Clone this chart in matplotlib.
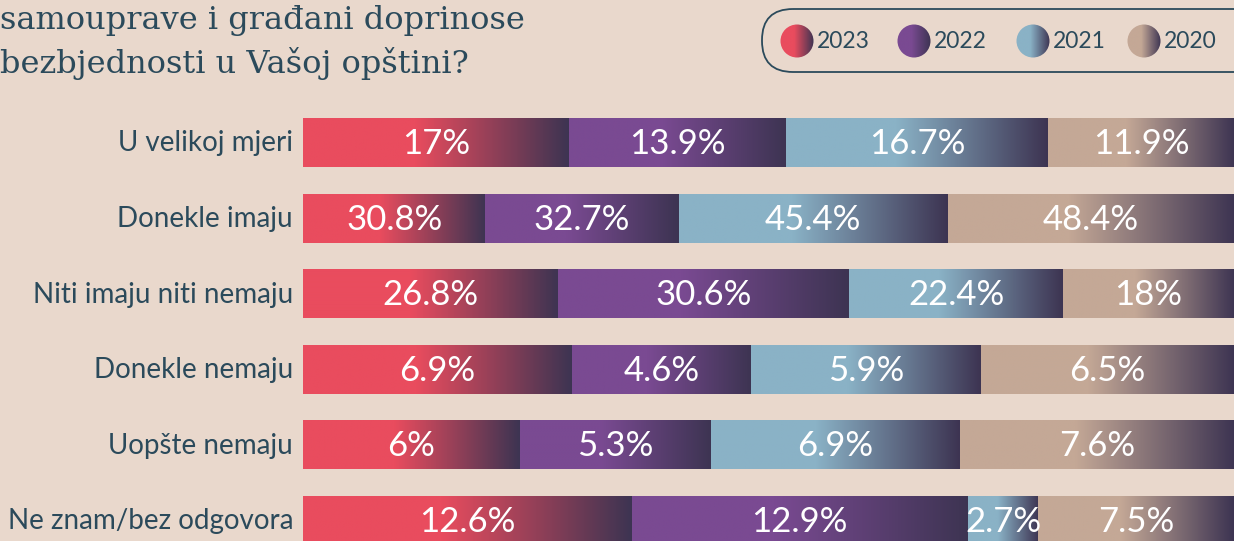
import numpy as np
import matplotlib.pyplot as plt
from matplotlib.colors import to_rgb
from matplotlib.patches import FancyBboxPatch, Circle

# Data
categories = ["U velikoj mjeri", "Donekle imaju", "Niti imaju niti nemaju",
              "Donekle nemaju", "Uopšte nemaju", "Ne znam/bez odgovora"]
years = ["2023", "2022", "2021", "2020"]
v2023 = [17, 30.8, 26.8, 6.9, 6, 12.6]
v2022 = [13.9, 32.7, 30.6, 4.6, 5.3, 12.9]
v2021 = [16.7, 45.4, 22.4, 5.9, 6.9, 2.7]
v2020 = [11.9, 48.4, 18, 6.5, 7.6, 7.5]
labels = [["17%", "30.8%", "26.8%", "6.9%", "6%", "12.6%"],
          ["13.9%", "32.7%", "30.6%", "4.6%", "5.3%", "12.9%"],
          ["16.7%", "45.4%", "22.4%", "5.9%", "6.9%", "2.7%"],
          ["11.9%", "48.4%", "18%", "6.5%", "7.6%", "7.5%"]]

# Style
BG = "#e9d8cc"
TEXT = "#2b4a5b"
DARK = "#3d3452"
COLORS = ["#e94c5e", "#7a4a92", "#8ab2c6", "#c4a896"]
GRAD_START = 0.42
ROW_TOP = 142.5   # px centre of first row
ROW_STEP = 75.6   # px between rows


def gradient_img(color, n=256):
    c0 = np.array(to_rgb(color))
    c1 = np.array(to_rgb(DARK))
    t = np.linspace(0, 1, n)
    w = np.clip((t - GRAD_START) / (1 - GRAD_START), 0, 1)
    img = c0[None, :] * (1 - w[:, None]) + c1[None, :] * w[:, None]
    return img[None, :, :]


fig = plt.figure(figsize=(12.34, 5.41), dpi=100, facecolor=BG)

# bar axes: rows spaced by 1, centre of first row at y=0
ax = fig.add_axes([303 / 1234, 0, 931 / 1234, 1])
ax.set_facecolor(BG)
ax.set_xlim(0, 1)
ax.set_ylim((541 - ROW_TOP) / ROW_STEP, -ROW_TOP / ROW_STEP)
ax.axis("off")

data = np.array([v2023, v2022, v2021, v2020])
totals = data.sum(axis=0)
h = 49 / ROW_STEP
for i, cat in enumerate(categories):
    left = 0
    for j in range(len(years)):
        w = data[j, i] / totals[i]
        ax.imshow(gradient_img(COLORS[j]), extent=(left, left + w, i + h / 2, i - h / 2),
                  aspect="auto", interpolation="bilinear", zorder=2)
        ax.text(left + w / 2, i + 0.02, labels[j][i], ha="center", va="center",
                color="white", fontsize=25, family="Lato", zorder=3)
        left += w
    fig.text(293 / 1234, 1 - (ROW_TOP + 1 + ROW_STEP * i) / 541, cat, ha="right", va="center",
             color=TEXT, fontsize=20, family="Lato")

# title (cropped at top)
fig.text(0, 1 - 29 / 541, "samouprave i građani doprinose", ha="left", va="baseline",
         color=TEXT, fontsize=23, family="DejaVu Serif")
fig.text(0, 1 - 73 / 541, "bezbjednosti u Vašoj opštini?", ha="left", va="baseline",
         color=TEXT, fontsize=23, family="DejaVu Serif")

# legend
lax = fig.add_axes([0, 0, 1, 1], facecolor="none")
lax.set_xlim(0, 1234)
lax.set_ylim(541, 0)
lax.axis("off")
lax.add_patch(FancyBboxPatch((762, 9), 520, 63, boxstyle="round,pad=0,rounding_size=31",
                             fill=False, edgecolor=TEXT, linewidth=1.3))
lx = [797, 914, 1033, 1144]
for j, yr in enumerate(years):
    circ = Circle((lx[j], 41), 16.5, transform=lax.transData, facecolor="none", edgecolor="none")
    lax.add_patch(circ)
    im = lax.imshow(gradient_img(COLORS[j]), extent=(lx[j] - 17, lx[j] + 17, 58, 24),
                    aspect="auto", interpolation="bilinear")
    im.set_clip_path(circ)
    lax.text(lx[j] + 20, 42, yr, ha="left", va="center", color=TEXT, fontsize=16.5, family="Lato")
lax.set_xlim(0, 1234)
lax.set_ylim(541, 0)

fig.savefig("out.png", dpi=100, facecolor=BG)
